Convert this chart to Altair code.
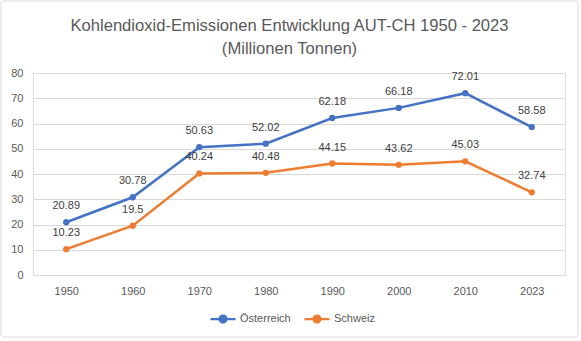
import altair as alt
import pandas as pd

years = ["1950", "1960", "1970", "1980", "1990", "2000", "2010", "2023"]
oesterreich = [20.89, 30.78, 50.63, 52.02, 62.18, 66.18, 72.01, 58.58]
schweiz = [10.23, 19.5, 40.24, 40.48, 44.15, 43.62, 45.03, 32.74]
series = ["Österreich", "Schweiz"]
colors = ["#4472C4", "#ED7D31"]
y_ticks = [0, 10, 20, 30, 40, 50, 60, 70, 80]
title_lines = ["Kohlendioxid-Emissionen Entwicklung AUT-CH 1950 - 2023", "(Millionen Tonnen)"]

rows = []
for name, vals in zip(series, [oesterreich, schweiz]):
    for yr, v in zip(years, vals):
        rows.append({"Jahr": yr, "Land": name, "Wert": v, "Label": f"{v:g}"})
df = pd.DataFrame(rows)

FONT = "Liberation Sans"
TXT = "#595959"

x_enc = alt.X("Jahr:O", sort=years, title=None,
              scale=alt.Scale(type="point", padding=0.5),
              axis=alt.Axis(labelAngle=0, ticks=False, domain=True, domainColor="#D9D9D9",
                            labelPadding=10, labelFont=FONT, labelFontSize=11, labelColor=TXT, grid=False))
y_enc = alt.Y("Wert:Q", title=None,
              scale=alt.Scale(domain=[0, 80], nice=False),
              axis=alt.Axis(values=y_ticks, ticks=False, domain=False, grid=True, gridColor="#D9D9D9",
                            labelOverlap=False, labelPadding=10, labelFont=FONT, labelFontSize=11,
                            labelColor=TXT))
legend_path = "M-1,0H1M-0.28,0A0.28,0.28,0,1,1,0.28,0A0.28,0.28,0,1,1,-0.28,0Z"
color_enc = alt.Color("Land:N", sort=series, title=None,
                      scale=alt.Scale(domain=series, range=colors),
                      legend=alt.Legend(orient="none", legendX=176, legendY=232, direction="horizontal",
                                        symbolType=legend_path, symbolSize=625, symbolStrokeWidth=2.25,
                                        labelFont=FONT, labelFontSize=11, labelColor=TXT, labelOffset=3,
                                        columnPadding=9))

base = alt.Chart(df)
lines = base.mark_line(strokeWidth=2.5).encode(x=x_enc, y=y_enc, color=color_enc)
points = base.mark_point(filled=True, size=40, opacity=1, shape="circle").encode(x=x_enc, y=y_enc, color=color_enc)
labels = base.mark_text(dy=-16, font=FONT, fontSize=11, color="#404040").encode(
    x=x_enc, y=y_enc, text="Label:N")

frame = alt.Chart(pd.DataFrame({"a": [0]})).mark_rect(
    fill=None, stroke="#D9D9D9", strokeWidth=1, cornerRadius=3).encode(
    x=alt.value(-32), x2=alt.value(545), y=alt.value(-72), y2=alt.value(264))

chart = alt.layer(frame, lines, points, labels).properties(
    width=532, height=202,
    title=alt.Title(text=title_lines, font=FONT, fontSize=16.6, fontWeight="normal", color=TXT,
                    anchor="middle", baseline="alphabetic", lineHeight=23, offset=0, dy=70, dx=-9.5),
    autosize=alt.AutoSizeParams(type="none"),
    padding={"left": 33, "top": 73, "right": 16, "bottom": 66},
).configure_view(stroke=None).configure(background="white")

chart.save("out.html", embed_options={"renderer": "svg", "actions": False})
